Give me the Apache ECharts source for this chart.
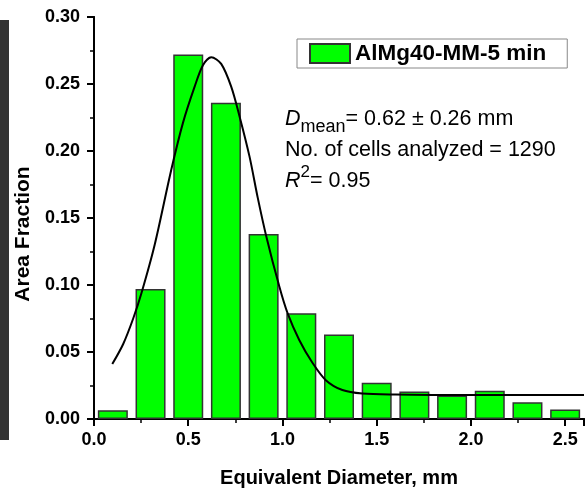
<!DOCTYPE html>
<html>
<head>
<meta charset="utf-8">
<script src="https://cdn.jsdelivr.net/npm/echarts@6/dist/echarts.min.js"></script>
<style>
html, body { margin: 0; padding: 0; background: #fff; }
#chart { width: 585px; height: 489px; }
</style>
</head>
<body>
<div id="chart"></div>
<script>
var dom = document.getElementById("chart");
var myChart = echarts.init(dom);

// histogram bins (centres, mm) and area fraction
var binCenters = [0.1, 0.3, 0.5, 0.7, 0.9, 1.1, 1.3, 1.5, 1.7, 1.9, 2.1, 2.3, 2.5];
var areaFraction = [0.0065, 0.097, 0.272, 0.236, 0.138, 0.079, 0.063, 0.027, 0.0205, 0.0175, 0.021, 0.0125, 0.007];

// fitted curve
var fitX = [0.097, 0.155, 0.208, 0.252, 0.322, 0.41, 0.472, 0.534, 0.578, 0.622, 0.675, 0.728, 0.772, 0.825, 0.869, 0.913, 0.983, 1.027, 1.089, 1.159, 1.23, 1.318, 1.424, 1.6, 1.8, 2.2, 2.6];
var fitY = [0.041, 0.056, 0.075, 0.094, 0.13, 0.186, 0.221, 0.248, 0.264, 0.270, 0.265, 0.248, 0.226, 0.196, 0.165, 0.137, 0.099, 0.079, 0.059, 0.042, 0.029, 0.0216, 0.019, 0.0182, 0.018, 0.018, 0.018];

var seriesName = 'AlMg40-MM-5 min';
var xTicks = ['0.0', '0.5', '1.0', '1.5', '2.0', '2.5'];

var barData = [];
for (var i = 0; i < binCenters.length; i++) {
    barData.push([binCenters[i], areaFraction[i]]);
}
var fitData = [];
for (var j = 0; j < fitX.length; j++) {
    fitData.push([fitX[j], fitY[j]]);
}

var font = 'Liberation Sans, Arial, sans-serif';

var option = {
    backgroundColor: '#fff',
    animation: false,
    textStyle: { fontFamily: font, color: '#000' },
    grid: { left: 94, right: 1, top: 17, bottom: 70, outerBoundsMode: 'none' },
    legend: {
        data: [{ name: seriesName, icon: 'rect' }],
        left: 297,
        top: 39,
        padding: [3, 21, 3, 12],
        itemWidth: 40,
        itemHeight: 19,
        borderColor: '#888',
        borderWidth: 1,
        textStyle: { fontSize: 22.5, fontWeight: 'bold', color: '#000', fontFamily: font }
    },
    xAxis: [{
        type: 'value',
        min: 0,
        max: 2.6,
        interval: 0.5,
        name: 'Equivalent Diameter, mm',
        nameLocation: 'middle',
        nameGap: 49,
        nameTextStyle: { fontSize: 20, fontWeight: 'bold', color: '#000', fontFamily: font },
        axisLine: { lineStyle: { color: '#000', width: 2 } },
        axisTick: { inside: false, length: 7, lineStyle: { color: '#000', width: 2 } },
        minorTick: { show: true, splitNumber: 2, length: 4, lineStyle: { color: '#000', width: 1.5 } },
        axisLabel: {
            margin: 12, fontSize: 18, fontWeight: 'bold', color: '#000', fontFamily: font,
            formatter: function (v) { return xTicks[Math.round(v / 0.5)] || ''; },
            showMaxLabel: false
        },
        splitLine: { show: false }
    }, {
        type: 'value',
        position: 'top',
        min: 0,
        max: 2.6,
        interval: 0.5,
        axisLine: { show: true, lineStyle: { color: '#000', width: 2 } },
        axisTick: { inside: true, length: 7, lineStyle: { color: '#000', width: 2 } },
        axisLabel: { show: false },
        splitLine: { show: false }
    }],
    yAxis: [{
        type: 'value',
        min: 0,
        max: 0.3,
        interval: 0.05,
        name: 'Area Fraction',
        nameLocation: 'middle',
        nameGap: 55,
        nameTextStyle: { fontSize: 21, fontWeight: 'bold', color: '#000', fontFamily: font, padding: [0, 32, 0, 0] },
        axisLine: { show: true, lineStyle: { color: '#000', width: 2 } },
        axisTick: { inside: false, length: 7, lineStyle: { color: '#000', width: 2 } },
        minorTick: { show: true, splitNumber: 2, length: 4, lineStyle: { color: '#000', width: 1.5 } },
        axisLabel: {
            margin: 14, fontSize: 18, fontWeight: 'bold', color: '#000', fontFamily: font,
            formatter: function (v) { return v.toFixed(2); }
        },
        splitLine: { show: false }
    }, {
        type: 'value',
        position: 'right',
        min: 0,
        max: 0.3,
        interval: 0.05,
        axisLine: { show: true, lineStyle: { color: '#000', width: 2 } },
        axisTick: { inside: true, length: 7, lineStyle: { color: '#000', width: 2 } },
        axisLabel: { show: false },
        splitLine: { show: false }
    }],
    graphic: [
        // dark strip of the neighbouring micrograph on the left edge
        { type: 'rect', left: 0, top: 20, shape: { width: 9, height: 420 }, style: { fill: '#333' }, silent: true },
        {
            type: 'text', left: 285, top: 108,
            style: {
                text: '{i|D}{s|mean}{n|= 0.62 ± 0.26 mm}',
                fill: '#000',
                rich: {
                    i: { fontSize: 21.5, fontStyle: 'italic', fontFamily: font, lineHeight: 34, verticalAlign: 'middle' },
                    s: { fontSize: 18, fontFamily: font, lineHeight: 18, verticalAlign: 'bottom' },
                    n: { fontSize: 21.5, fontFamily: font, lineHeight: 34, verticalAlign: 'middle' }
                }
            }
        },
        {
            type: 'text', left: 285, top: 139,
            style: { text: 'No. of cells analyzed = 1290', fill: '#000', font: '21.5px ' + font }
        },
        {
            type: 'text', left: 285, top: 164,
            style: {
                text: '{i|R}{p|2}{n|= 0.95}',
                fill: '#000',
                rich: {
                    i: { fontSize: 21.5, fontStyle: 'italic', fontFamily: font, lineHeight: 34, verticalAlign: 'middle' },
                    p: { fontSize: 17, fontFamily: font, lineHeight: 17, verticalAlign: 'top' },
                    n: { fontSize: 21.5, fontFamily: font, lineHeight: 34, verticalAlign: 'middle' }
                }
            }
        }
    ],
    series: [{
        name: seriesName,
        type: 'bar',
        barWidth: 30,
        data: barData,
        itemStyle: { color: '#00ff00', borderColor: '#333', borderWidth: 1.5 }
    }, {
        name: 'fit',
        type: 'line',
        data: fitData,
        smooth: 0.3,
        showSymbol: false,
        symbol: 'none',
        lineStyle: { color: '#000', width: 2 },
        z: 5
    }]
};

if (option && typeof option === "object") {
    myChart.setOption(option, true);
}
</script>
</body>
</html>
